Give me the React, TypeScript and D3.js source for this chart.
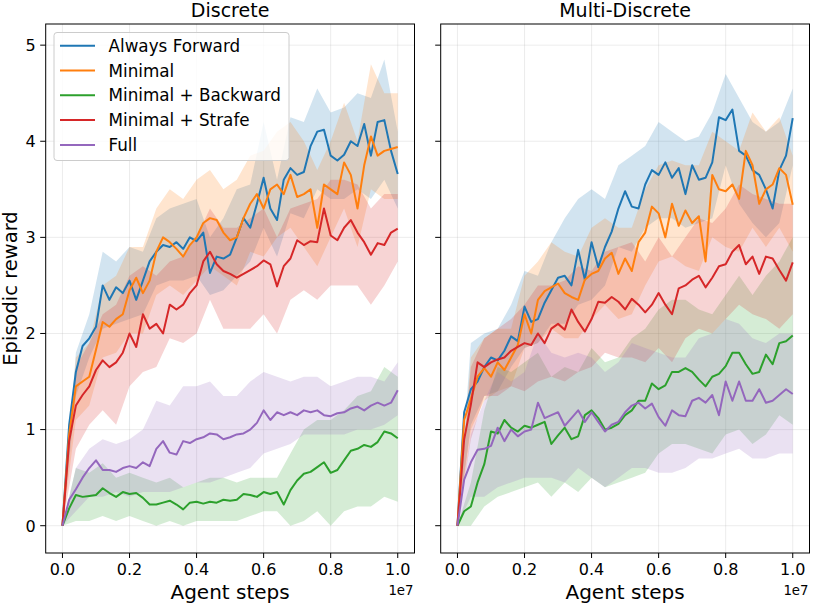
import React from 'react';
import * as d3 from 'd3';

// sample positions in units of 1e7 agent steps
const lineSteps = d3.range(51).map(i => i * 0.02);
const bandSteps = d3.range(26).map(i => i * 0.04);

const seriesNames = ['Always Forward', 'Minimal', 'Minimal + Backward', 'Minimal + Strafe', 'Full'];
const seriesColors = ['#1f77b4', '#ff7f0e', '#2ca02c', '#d62728', '#9467bd'];
const xTicks = [0, 0.2, 0.4, 0.6, 0.8, 1.0];
const yTicks = [0, 1, 2, 3, 4, 5];

// ---- Discrete ----
const discForward = [0, 1.05, 1.6, 1.87, 1.95, 2.07, 2.5, 2.35, 2.48, 2.42, 2.55, 2.35, 2.55, 2.75, 2.85, 2.92, 2.9, 2.95, 2.88, 3.0, 2.96, 3.05, 2.63, 2.8, 2.78, 2.82, 3.0, 3.2, 3.1, 3.35, 3.62, 3.3, 3.18, 3.6, 3.72, 3.65, 3.68, 3.95, 4.1, 4.12, 3.85, 3.8, 3.86, 4.0, 3.95, 4.18, 3.85, 4.2, 4.22, 3.9, 3.66];
const discMinimal = [0, 0.95, 1.45, 1.5, 1.55, 1.83, 2.12, 2.07, 2.15, 2.2, 2.45, 2.58, 2.42, 2.55, 2.85, 3.0, 2.95, 2.88, 2.8, 2.92, 3.0, 3.15, 3.2, 3.18, 3.05, 2.97, 3.0, 3.2, 3.35, 3.45, 3.3, 3.5, 3.55, 3.45, 3.65, 3.42, 3.45, 3.5, 3.1, 3.55, 3.5, 3.45, 3.78, 3.65, 3.3, 3.75, 4.05, 3.85, 3.9, 3.92, 3.94];
const discBackward = [0, 0.18, 0.32, 0.3, 0.31, 0.32, 0.39, 0.34, 0.3, 0.35, 0.33, 0.34, 0.29, 0.22, 0.22, 0.24, 0.26, 0.22, 0.17, 0.24, 0.25, 0.23, 0.25, 0.24, 0.27, 0.26, 0.27, 0.33, 0.32, 0.3, 0.35, 0.33, 0.35, 0.22, 0.37, 0.47, 0.54, 0.56, 0.61, 0.66, 0.55, 0.58, 0.68, 0.78, 0.8, 0.84, 0.82, 0.87, 0.98, 0.96, 0.91];
const discStrafe = [0, 0.88, 1.25, 1.36, 1.45, 1.62, 1.72, 1.65, 1.7, 1.8, 2.0, 1.86, 2.2, 2.05, 2.1, 2.0, 2.3, 2.25, 2.3, 2.42, 2.5, 2.75, 2.85, 2.72, 2.65, 2.62, 2.58, 2.62, 2.66, 2.7, 2.76, 2.72, 2.49, 2.7, 2.78, 2.97, 2.92, 2.96, 2.95, 3.3, 3.02, 2.97, 3.1, 3.18, 3.05, 2.95, 2.82, 2.94, 2.92, 3.05, 3.09];
const discFull = [0, 0.27, 0.38, 0.5, 0.6, 0.68, 0.58, 0.58, 0.56, 0.6, 0.62, 0.6, 0.66, 0.62, 0.8, 0.88, 0.76, 0.74, 0.88, 0.86, 0.9, 0.92, 0.96, 0.95, 0.9, 0.92, 0.95, 0.96, 1.0, 1.07, 1.2, 1.1, 1.18, 1.15, 1.18, 1.15, 1.2, 1.18, 1.2, 1.15, 1.14, 1.17, 1.18, 1.22, 1.24, 1.2, 1.25, 1.28, 1.25, 1.28, 1.41];

const discForwardLo = [0, 1.35, 1.75, 2.05, 2.1, 2.15, 2.2, 2.5, 2.55, 2.55, 2.6, 2.4, 2.45, 2.6, 2.75, 3.1, 2.8, 3.25, 3.2, 3.5, 3.4, 3.4, 3.5, 3.4, 3.6, 3.3];
const discForwardHi = [0, 1.8, 2.2, 2.85, 2.75, 2.9, 2.85, 3.2, 3.3, 3.35, 3.4, 3.0, 3.2, 3.5, 3.55, 4.2, 3.6, 4.25, 4.2, 4.55, 4.3, 4.35, 4.5, 4.45, 4.85, 4.1];
const discMinimalLo = [0, 1.1, 1.25, 1.75, 1.8, 2.0, 2.0, 2.4, 2.5, 2.4, 2.55, 2.7, 2.6, 2.5, 2.85, 2.8, 3.0, 3.1, 2.9, 2.7, 3.0, 3.3, 2.9, 3.5, 3.4, 3.4];
const discMinimalHi = [0, 1.75, 1.9, 2.5, 2.6, 2.9, 2.9, 3.3, 3.5, 3.4, 3.6, 3.7, 3.5, 3.6, 3.85, 3.9, 4.1, 4.2, 4.0, 3.7, 4.0, 4.4, 4.0, 4.8, 4.5, 4.5];
const discBackwardLo = [0, 0.05, 0.05, 0.1, 0.05, 0.1, 0.05, 0.0, 0.05, 0.0, 0.05, 0.05, 0.05, 0.05, 0.1, 0.15, 0.15, 0.0, 0.05, 0.15, 0.0, 0.15, 0.2, 0.2, 0.3, 0.25];
const discBackwardHi = [0, 0.6, 0.55, 0.65, 0.5, 0.55, 0.5, 0.45, 0.5, 0.4, 0.45, 0.5, 0.5, 0.45, 0.5, 0.5, 0.5, 0.75, 1.0, 1.1, 1.1, 1.2, 1.35, 1.4, 1.65, 1.55];
const discStrafeLo = [0, 0.8, 1.05, 1.2, 1.05, 1.45, 1.6, 1.65, 1.95, 1.9, 2.0, 2.35, 2.05, 2.05, 2.05, 2.2, 2.0, 2.35, 2.45, 2.35, 2.5, 2.5, 2.5, 2.3, 2.5, 2.75];
const discStrafeHi = [0, 1.65, 1.9, 2.2, 2.3, 2.6, 2.7, 2.6, 2.75, 2.8, 3.0, 3.3, 3.1, 3.1, 3.2, 3.3, 3.0, 3.3, 3.35, 3.4, 3.6, 3.6, 3.55, 3.3, 3.45, 3.45];
const discFullLo = [0, 0.15, 0.3, 0.3, 0.35, 0.3, 0.35, 0.35, 0.35, 0.4, 0.45, 0.45, 0.5, 0.55, 0.6, 0.75, 0.8, 0.85, 0.95, 0.95, 0.95, 0.95, 1.0, 1.0, 1.05, 1.15];
const discFullHi = [0, 0.6, 0.8, 0.9, 0.85, 0.9, 1.0, 1.3, 1.25, 1.45, 1.45, 1.5, 1.35, 1.35, 1.5, 1.6, 1.55, 1.5, 1.55, 1.55, 1.45, 1.5, 1.55, 1.55, 1.5, 1.7];

// ---- Multi-Discrete ----
const multiForward = [0, 1.18, 1.42, 1.5, 1.65, 1.75, 1.72, 1.82, 1.97, 1.92, 2.28, 2.12, 2.15, 2.32, 2.45, 2.58, 2.6, 2.5, 2.87, 2.56, 2.95, 2.69, 2.9, 3.06, 3.3, 3.48, 3.32, 3.3, 3.55, 3.7, 3.65, 3.78, 3.62, 3.72, 3.45, 3.75, 3.6, 3.62, 3.78, 4.25, 4.22, 4.33, 3.9, 3.85, 3.7, 3.65, 3.5, 3.3, 3.7, 3.85, 4.24];
const multiMinimal = [0, 1.1, 1.32, 1.55, 1.64, 1.55, 1.7, 1.62, 1.75, 1.88, 2.2, 2.0, 2.35, 2.44, 2.48, 2.52, 2.42, 2.38, 2.35, 2.56, 2.62, 2.65, 2.78, 2.84, 2.62, 2.78, 2.65, 2.95, 3.05, 3.32, 3.25, 3.0, 3.35, 3.12, 3.28, 3.15, 3.22, 2.75, 3.65, 3.5, 3.48, 3.55, 3.4, 3.9, 3.75, 3.35, 3.5, 3.55, 3.72, 3.65, 3.34];
const multiBackward = [0, 0.15, 0.2, 0.45, 0.64, 0.98, 0.96, 1.1, 1.02, 0.98, 1.04, 1.02, 1.05, 1.08, 0.85, 0.94, 1.02, 0.9, 0.93, 1.15, 1.2, 1.12, 1.0, 1.02, 1.06, 1.15, 1.2, 1.3, 1.3, 1.48, 1.42, 1.46, 1.6, 1.6, 1.64, 1.6, 1.52, 1.45, 1.55, 1.58, 1.66, 1.8, 1.8, 1.68, 1.58, 1.6, 1.78, 1.68, 1.9, 1.92, 1.98];
const multiStrafe = [0, 0.9, 1.26, 1.7, 1.65, 1.7, 1.73, 1.75, 1.82, 1.86, 1.9, 1.88, 2.0, 1.9, 2.05, 2.1, 2.04, 2.25, 2.12, 2.02, 2.15, 2.33, 2.32, 2.38, 2.33, 2.25, 2.36, 2.3, 2.22, 2.3, 2.42, 2.3, 2.2, 2.47, 2.5, 2.56, 2.6, 2.48, 2.58, 2.7, 2.72, 2.85, 2.92, 2.72, 2.8, 2.62, 2.8, 2.78, 2.66, 2.55, 2.74];
const multiFull = [0, 0.48, 0.66, 0.79, 0.8, 0.83, 1.02, 0.88, 1.0, 0.93, 0.98, 1.0, 1.28, 1.12, 1.15, 1.18, 1.04, 1.12, 1.2, 1.08, 1.18, 1.08, 0.98, 1.05, 1.08, 1.18, 1.25, 1.28, 1.22, 1.27, 1.13, 1.04, 1.2, 1.15, 1.14, 1.3, 1.33, 1.28, 1.36, 1.15, 1.5, 1.3, 1.5, 1.3, 1.3, 1.42, 1.28, 1.3, 1.36, 1.42, 1.37];

const multiForwardLo = [0, 1.05, 1.35, 1.4, 1.65, 1.85, 1.9, 2.1, 2.1, 2.3, 2.35, 2.5, 2.9, 2.85, 3.1, 3.2, 3.2, 3.1, 3.15, 3.2, 3.75, 3.35, 3.15, 3.0, 3.15, 3.75];
const multiForwardHi = [0, 1.9, 2.0, 2.05, 2.3, 2.65, 2.6, 2.95, 3.2, 3.4, 3.5, 3.4, 3.75, 3.85, 3.95, 4.2, 4.1, 4.0, 4.05, 4.3, 4.7, 4.45, 4.2, 4.1, 4.2, 4.55];
const multiMinimalLo = [0, 1.0, 1.3, 1.4, 1.45, 1.85, 1.9, 2.05, 1.95, 1.95, 2.15, 2.3, 2.15, 2.2, 2.5, 2.75, 2.8, 2.7, 2.65, 3.0, 2.9, 2.85, 3.1, 2.9, 3.1, 2.85];
const multiMinimalHi = [0, 1.75, 1.95, 2.05, 2.05, 2.6, 2.75, 2.95, 2.85, 2.8, 3.1, 3.2, 3.1, 3.1, 3.5, 3.75, 3.8, 3.75, 3.75, 4.1, 4.0, 3.9, 4.3, 4.1, 4.25, 3.85];
const multiBackwardLo = [0, 0.0, 0.2, 0.3, 0.35, 0.4, 0.45, 0.3, 0.45, 0.35, 0.5, 0.4, 0.45, 0.5, 0.55, 0.75, 0.85, 0.85, 0.8, 0.75, 0.95, 1.0, 0.85, 0.95, 1.15, 1.05];
const multiBackwardHi = [0, 0.45, 1.2, 1.65, 1.6, 1.7, 1.8, 1.55, 1.65, 1.6, 1.85, 1.7, 1.75, 1.95, 2.05, 2.25, 2.35, 2.35, 2.25, 2.2, 2.4, 2.6, 2.4, 2.6, 2.75, 3.0];
const multiStrafeLo = [0, 0.9, 1.35, 1.35, 1.45, 1.4, 1.5, 1.55, 1.5, 1.6, 1.65, 1.8, 1.75, 1.75, 1.7, 1.85, 1.7, 1.95, 2.05, 2.0, 2.15, 2.3, 2.2, 2.15, 2.05, 2.2];
const multiStrafeHi = [0, 1.65, 1.95, 2.05, 2.15, 2.3, 2.5, 2.5, 2.55, 2.7, 2.65, 2.85, 2.9, 2.95, 2.75, 3.0, 2.8, 3.0, 3.2, 3.15, 3.3, 3.55, 3.45, 3.4, 3.35, 3.35];
const multiFullLo = [0, 0.3, 0.3, 0.4, 0.45, 0.5, 0.5, 0.5, 0.45, 0.6, 0.5, 0.4, 0.5, 0.6, 0.6, 0.55, 0.55, 0.6, 0.7, 0.7, 0.75, 0.8, 0.7, 0.7, 0.75, 0.75];
const multiFullHi = [0, 0.95, 1.3, 1.6, 1.5, 1.6, 2.0, 1.8, 1.75, 1.8, 1.75, 1.6, 1.7, 1.9, 1.85, 1.8, 1.75, 1.75, 1.95, 2.0, 2.15, 2.1, 1.95, 1.9, 2.0, 2.0];

interface Series {
    mean: number[];
    lo: number[];
    hi: number[];
}

const panels: { title: string; series: Series[] }[] = [
    {
        title: 'Discrete',
        series: [
            { mean: discForward, lo: discForwardLo, hi: discForwardHi },
            { mean: discMinimal, lo: discMinimalLo, hi: discMinimalHi },
            { mean: discBackward, lo: discBackwardLo, hi: discBackwardHi },
            { mean: discStrafe, lo: discStrafeLo, hi: discStrafeHi },
            { mean: discFull, lo: discFullLo, hi: discFullHi },
        ],
    },
    {
        title: 'Multi-Discrete',
        series: [
            { mean: multiForward, lo: multiForwardLo, hi: multiForwardHi },
            { mean: multiMinimal, lo: multiMinimalLo, hi: multiMinimalHi },
            { mean: multiBackward, lo: multiBackwardLo, hi: multiBackwardHi },
            { mean: multiStrafe, lo: multiStrafeLo, hi: multiStrafeHi },
            { mean: multiFull, lo: multiFullLo, hi: multiFullHi },
        ],
    },
];

const FONT = '"DejaVu Sans", sans-serif';
const top = 24;
const bottom = 553;
const panelLeft = [45.7, 440.7];
const panelWidth = 368.8;

const y = d3.scaleLinear().domain([-0.284, 5.22]).range([bottom, top]);

const Panel: React.FC<{ index: number }> = ({ index }) => {
    const panel = panels[index];
    const left = panelLeft[index];
    const x = d3.scaleLinear().domain([-0.05, 1.05]).range([left, left + panelWidth]);

    const line = d3.line<number>()
        .x((_, i) => x(lineSteps[i]))
        .y(d => y(d));

    const area = (s: Series) =>
        d3.area<number>()
            .x((_, i) => x(bandSteps[i]))
            .y0((_, i) => y(s.lo[i]))
            .y1((_, i) => y(s.hi[i]))(s.lo) || '';

    return (
        <g>
            {/* grid */}
            {xTicks.map(t => (
                <line key={'gx' + t} x1={x(t)} x2={x(t)} y1={top} y2={bottom} stroke="#b0b0b0" strokeOpacity={0.3} strokeWidth={0.8} />
            ))}
            {yTicks.map(t => (
                <line key={'gy' + t} x1={left} x2={left + panelWidth} y1={y(t)} y2={y(t)} stroke="#b0b0b0" strokeOpacity={0.3} strokeWidth={0.8} />
            ))}

            {/* bands */}
            {panel.series.map((s, i) => (
                <path key={'b' + i} d={area(s)} fill={seriesColors[i]} fillOpacity={0.2} stroke="none" />
            ))}
            {/* lines */}
            {panel.series.map((s, i) => (
                <path key={'l' + i} d={line(s.mean) || ''} fill="none" stroke={seriesColors[i]} strokeWidth={2} strokeLinejoin="round" />
            ))}

            {/* frame */}
            <rect x={left} y={top} width={panelWidth} height={bottom - top} fill="none" stroke="#000" strokeWidth={1} />

            {/* x ticks */}
            {xTicks.map(t => (
                <g key={'xt' + t}>
                    <line x1={x(t)} x2={x(t)} y1={bottom} y2={bottom + 5} stroke="#000" strokeWidth={1} />
                    <text x={x(t)} y={575} textAnchor="middle" fontSize={16} fontFamily={FONT}>{t.toFixed(1)}</text>
                </g>
            ))}
            <text x={left + panelWidth - 1} y={595} textAnchor="end" fontSize={13.3} fontFamily={FONT}>1e7</text>
            <text x={left + panelWidth / 2} y={599} textAnchor="middle" fontSize={20} fontFamily={FONT}>Agent steps</text>

            {/* y ticks */}
            {yTicks.map(t => (
                <g key={'yt' + t}>
                    <line x1={left - 5.5} x2={left} y1={y(t)} y2={y(t)} stroke="#000" strokeWidth={1} />
                    {index === 0 && (
                        <text x={left - 10} y={y(t) + 5.8} textAnchor="end" fontSize={16} fontFamily={FONT}>{t}</text>
                    )}
                </g>
            ))}

            <text x={left + panelWidth / 2} y={17} textAnchor="middle" fontSize={19} fontFamily={FONT}>{panel.title}</text>
        </g>
    );
};

const Legend: React.FC = () => (
    <g>
        <rect x={54} y={32.5} width={235} height={128} rx={3} fill="#fff" fillOpacity={0.8} stroke="#cccccc" strokeWidth={1} />
        {seriesNames.map((name, i) => (
            <g key={name}>
                <line x1={60} x2={95} y1={45.7 + i * 24.8} y2={45.7 + i * 24.8} stroke={seriesColors[i]} strokeWidth={2} />
                <text x={108.5} y={45.7 + i * 24.8 + 6} fontSize={16.8} fontFamily={FONT}>{name}</text>
            </g>
        ))}
    </g>
);

export default function App() {
    if (typeof document !== 'undefined') document.body.style.margin = '0';
    return (
        <svg width={814} height={605} style={{ display: 'block', background: '#fff' }}>
            <Panel index={0} />
            <Panel index={1} />
            <Legend />
            <text transform="translate(16.5,288.5) rotate(-90)" textAnchor="middle" fontSize={19.5} fontFamily={FONT}>Episodic reward</text>
        </svg>
    );
}
